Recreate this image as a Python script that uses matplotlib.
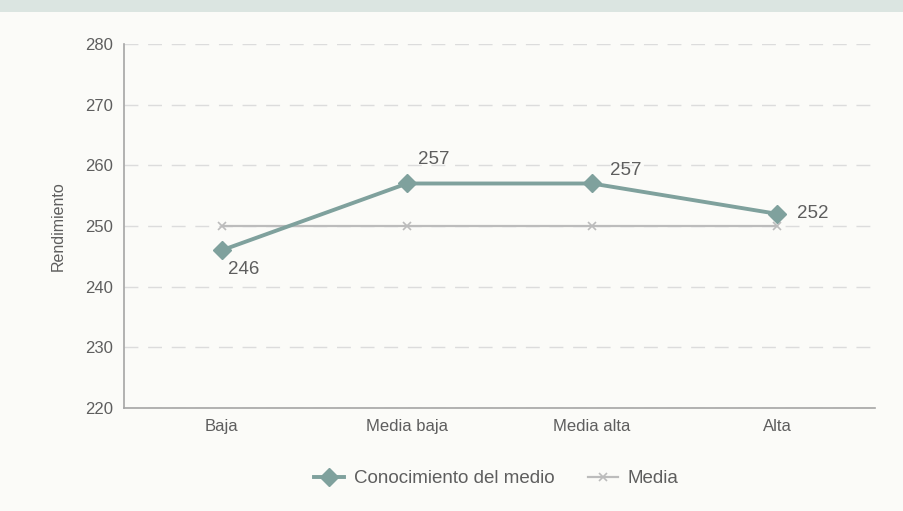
import matplotlib
matplotlib.use("Agg")
import matplotlib.pyplot as plt
import numpy as np

plt.rcParams['font.family'] = ['Liberation Sans', 'DejaVu Sans']

categorias = ["Baja", "Media baja", "Media alta", "Alta"]
conocimiento = [246, 257, 257, 252]
media = [250, 250, 250, 250]
yticks = [220, 230, 240, 250, 260, 270, 280]

verde = "#7fa19d"
gris = "#bcbcbc"
texto = "#5e5e5e"

fig = plt.figure(figsize=(9.04, 5.11), dpi=100)
fig.patch.set_facecolor("#fbfbf8")
# franja superior de la pagina
fig.add_artist(plt.Rectangle((0, 0.976), 1, 0.024, transform=fig.transFigure,
                             color="#dbe5e1", lw=0))

ax = fig.add_axes([0.137, 0.2016, 0.831, 0.7124])
ax.set_facecolor("#fbfbf8")
x = np.arange(len(categorias))

ax.plot(x, media, color=gris, lw=1.6, marker="x", ms=6, mew=1.2,
        label="Media", zorder=2)
ax.plot(x, conocimiento, color=verde, lw=2.8, marker="D", ms=9,
        label="Conocimiento del medio", zorder=3)

# desplazamiento de cada etiqueta respecto a su punto (en puntos)
offsets = [(16, -14), (19, 17), (24, 9), (26, 0)]
for xi, v, off in zip(x, conocimiento, offsets):
    ax.annotate(str(v), (xi, v), xytext=off, textcoords="offset points",
                ha="center", va="center", fontsize=13.5, color=texto)

ax.set_xlim(-0.53, 3.53)
ax.set_ylim(220, 280)
ax.set_xticks(x)
ax.set_xticklabels(categorias)
ax.set_yticks(yticks)
ax.tick_params(length=0, labelsize=12, colors=texto, pad=8)
ax.yaxis.grid(True, color="#dcdcdc", lw=1, ls=(0, (10, 7)))
for s in ["top", "right"]:
    ax.spines[s].set_visible(False)
for s in ["left", "bottom"]:
    ax.spines[s].set_color("#a5a5a5")
    ax.spines[s].set_linewidth(1.2)
ax.set_ylabel("Rendimiento", fontsize=11.5, color=texto, labelpad=14)

handles, labels = ax.get_legend_handles_labels()
fig.legend(handles[::-1], labels[::-1], loc="center", bbox_to_anchor=(0.549, 0.063),
           ncol=2, frameon=False, fontsize=13.5, labelcolor=texto,
           handlelength=1.6, handletextpad=0.5, columnspacing=1.8)

fig.savefig("out.png", dpi=100, facecolor=fig.get_facecolor())
